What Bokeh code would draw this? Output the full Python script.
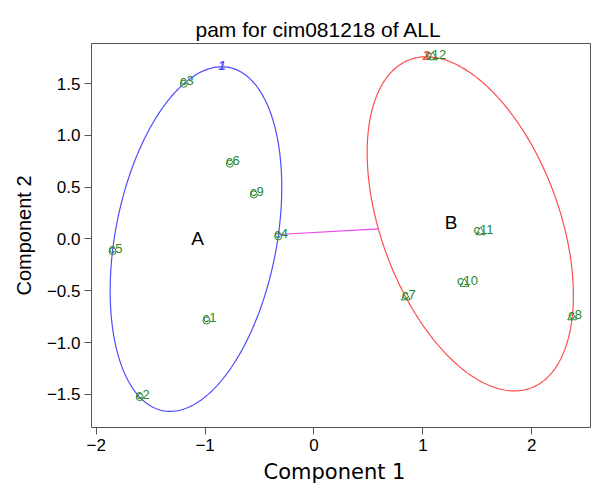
import numpy as np
from bokeh.plotting import figure
from bokeh.models import Range1d, FixedTicker, CustomJSTickFormatter, Title, ColumnDataSource
from bokeh.core.properties import value
from bokeh.embed import file_html
from bokeh.resources import INLINE

# ---- data (component scores) ----
names_A = ["c1", "c2", "c3", "c4", "c5", "c6", "c9"]
x_A = [-0.987, -1.600, -1.196, -0.329, -1.850, -0.773, -0.553]
y_A = [-0.787, -1.527, 1.498, 0.024, -0.118, 0.726, 0.430]

names_B = ["c7", "c8", "c10", "c11", "c12"]
x_B = [0.843, 2.371, 1.382, 1.529, 1.091]
y_B = [-0.562, -0.755, -0.432, 0.066, 1.755]

cluster_ids = ["1", "2"]
cluster_names = ["A", "B"]
cluster_name_x = [-1.07, 1.26]
cluster_name_y = [0.0, 0.16]

x_ticks = [-2, -1, 0, 1, 2]
y_ticks = [-1.5, -1.0, -0.5, 0.0, 0.5, 1.0, 1.5]

FONT = "Liberation Sans"
WIDE = "DejaVu Sans"
GREEN = "#2a862a"
BLUE = "#4d4dff"
RED = "#ff4d4d"
MAGENTA = "#f044f0"


def mvee(P, tol=1e-9):
    """Minimum volume enclosing ellipse (Khachiyan)."""
    P = np.asarray(P, dtype=float)
    N, d = P.shape
    Q = np.vstack([P.T, np.ones(N)])
    u = np.ones(N) / N
    err = 1.0
    it = 0
    while err > tol and it < 100000:
        X = Q @ np.diag(u) @ Q.T
        M = np.einsum("ij,ji->i", Q.T @ np.linalg.inv(X), Q)
        j = int(np.argmax(M))
        step = (M[j] - d - 1.0) / ((d + 1.0) * (M[j] - 1.0))
        nu = (1.0 - step) * u
        nu[j] += step
        err = np.linalg.norm(nu - u)
        u = nu
        it += 1
    c = P.T @ u
    A = np.linalg.inv(P.T @ np.diag(u) @ P - np.outer(c, c)) / d
    return A, c


def ellipse_pts(A, c, n=400):
    w, V = np.linalg.eigh(A)
    t = np.linspace(0, 2 * np.pi, n)
    circ = np.vstack([np.cos(t), np.sin(t)])
    pts = V @ np.diag(1.0 / np.sqrt(w)) @ circ
    return c[0] + pts[0], c[1] + pts[1]


PA = np.column_stack([x_A, y_A])
PB = np.column_stack([x_B, y_B])
AA, cA = mvee(PA)
AB, cB = mvee(PB)

p = figure(width=593, height=491,
           x_range=Range1d(-2.043, 2.539), y_range=Range1d(-1.820, 1.887),
           output_backend="svg", toolbar_location=None,
           min_border_left=91, min_border_right=3, min_border_top=43, min_border_bottom=64)

p.title.text = "pam for cim081218 of ALL"
p.title.text_font = FONT
p.title.text_font_size = "21px"
p.title.text_font_style = "normal"
p.title.text_color = "black"
p.title.align = "left"
p.title.offset = 104
p.title.standoff = 6

p.grid.visible = False
p.outline_line_color = "#555555"
p.outline_line_width = 1
p.background_fill_color = "white"
p.border_fill_color = "white"

for ax in (p.xaxis[0], p.yaxis[0]):
    ax.axis_line_color = None
    ax.major_tick_out = 7
    ax.major_tick_in = 0
    ax.minor_tick_line_color = None
    ax.major_tick_line_color = "#555555"
    ax.major_label_text_font = FONT
    ax.major_label_text_font_size = "17px"
    ax.major_label_text_color = "black"
    ax.axis_label_text_font = FONT
    ax.axis_label_text_font_size = "20px"
    ax.axis_label_text_font_style = "normal"
    ax.axis_label_text_color = "black"

p.xaxis.ticker = FixedTicker(ticks=x_ticks)
p.yaxis.ticker = FixedTicker(ticks=y_ticks)
p.xaxis.formatter = CustomJSTickFormatter(code="return tick < 0 ? '\u2212' + Math.abs(tick).toFixed(0) : tick.toFixed(0);")
p.yaxis.formatter = CustomJSTickFormatter(code="return tick < 0 ? '\u2212' + Math.abs(tick).toFixed(1) : tick.toFixed(1);")
p.xaxis.major_label_standoff = 4
p.yaxis.major_label_standoff = 4
p.yaxis.axis_label = "Component 2"
p.yaxis.axis_label_standoff = 9

xlab = Title(text="Component 1", align="left", offset=172, text_font=WIDE,
             text_font_size="21px", text_font_style="normal", text_color="black",
             standoff=8)
p.add_layout(xlab, "below")

# ellipses
exA, eyA = ellipse_pts(AA, cA)
exB, eyB = ellipse_pts(AB, cB)
p.line(exA, eyA, line_color=BLUE, line_width=1.2)
p.line(exB, eyB, line_color=RED, line_width=1.2)

# segment between ellipse boundaries along line of centers
dvec = cB - cA
pA = cA + dvec / np.sqrt(dvec @ AA @ dvec)
pB = cB - dvec / np.sqrt(dvec @ AB @ dvec)
p.line([pA[0], pB[0]], [pA[1], pB[1]], line_color=MAGENTA, line_width=1.2)

# cluster number labels at the top of each ellipse
tops_x, tops_y = [], []
for A_, c_ in ((AA, cA), (AB, cB)):
    S = np.linalg.inv(A_)
    tops_x.append(c_[0] + S[0, 1] / np.sqrt(S[1, 1]))
    tops_y.append(c_[1] + np.sqrt(S[1, 1]))
p.text(x=tops_x, y=tops_y, text=cluster_ids, text_color=[BLUE, RED],
       text_font=value(FONT), text_font_size="13px", text_font_style="bold italic",
       text_align="center", text_baseline="bottom", y_offset=3)

# points
p.scatter(x_A, y_A, marker="circle", size=7, fill_color=None, line_color=GREEN, line_width=1)
p.scatter(x_B, y_B, marker="triangle", size=9, fill_color=None, line_color=GREEN, line_width=1)

src = ColumnDataSource(dict(x=x_A + x_B, y=y_A + y_B, t=names_A + names_B))
p.text(x="x", y="y", text="t", source=src, text_color=GREEN,
       text_font=value(FONT), text_font_size="13px",
       text_align="center", text_baseline="middle", x_offset=3, y_offset=-3)

# cluster names
p.text(x=cluster_name_x, y=cluster_name_y, text=cluster_names, text_color="black",
       text_font=value(FONT), text_font_size="19px",
       text_align="center", text_baseline="middle")

open("out.html", "w").write(file_html(p, INLINE))
